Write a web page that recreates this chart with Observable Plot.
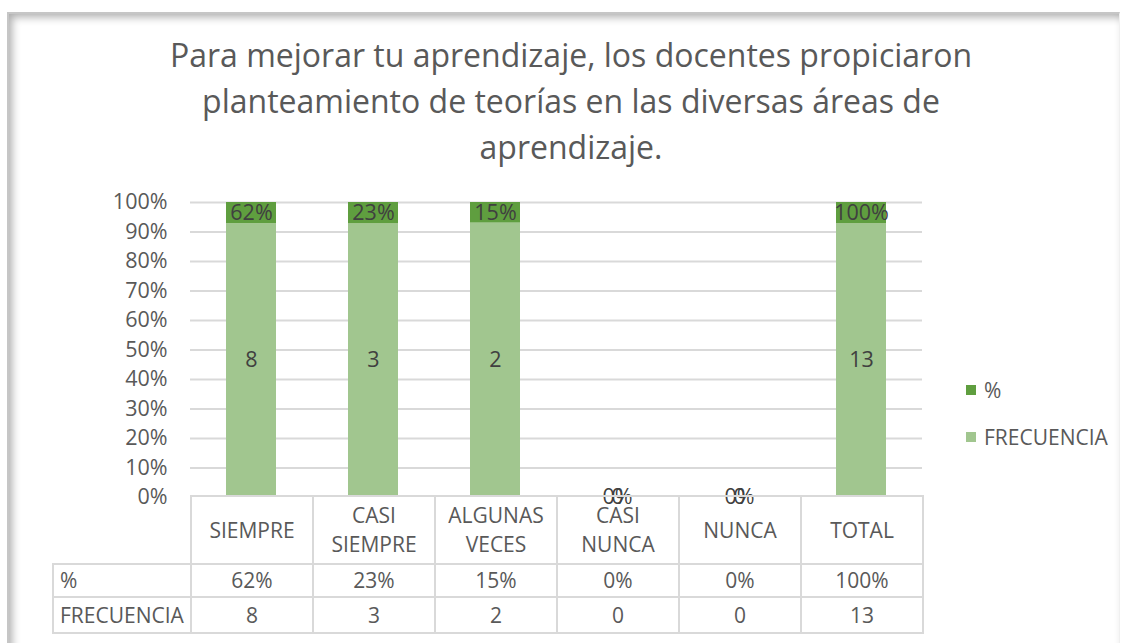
<!DOCTYPE html>
<html><head><meta charset="utf-8">
<script src="https://cdn.jsdelivr.net/npm/d3@7"></script>
<script src="https://cdn.jsdelivr.net/npm/@observablehq/plot@0.6"></script>
<style>
html,body{margin:0;padding:0;background:#fff;}
#root{position:relative;width:1122px;height:643px;overflow:hidden;font-family:"Open Sans",sans-serif;color:#595959;background:#fff;}
#frame{position:absolute;left:7px;top:12px;width:1110px;height:640px;border-top:2px solid #c6c6c6;border-left:2px solid #c6c6c6;border-right:1px solid #f0f0f0;
  box-shadow: inset 9px 9px 9px -6px rgba(0,0,0,0.32), inset -4px 0 6px -4px rgba(0,0,0,0.08);}
#title{position:absolute;left:0;width:1142px;top:32px;text-align:center;font-size:32px;line-height:46px;color:#595959;}
#chart{position:absolute;left:0;top:185px;}
#legend{position:absolute;left:966px;top:366px;font-size:21px;color:#595959;}
#legend .item{display:flex;align-items:center;height:47px;}
#legend .sw{width:10px;height:10px;margin-right:8px;}
#table{position:absolute;left:52px;top:495px;border-collapse:collapse;table-layout:fixed;font-size:21px;color:#595959;}
#table td{border:2px solid #d9d9d9;text-align:center;padding:0;line-height:29px;}
#table td.blank{border:none;}
#table td.rowlab{text-align:left;padding-left:6px;}
</style></head>
<body><div id="root"><div id="frame"></div><div id="title"></div><div id="chart"></div><div id="legend"></div><table id="table"></table></div>
<script>
const titleLines = ["Para mejorar tu aprendizaje, los docentes propiciaron", "planteamiento de teorías en las diversas áreas de", "aprendizaje."];
const categories = ["SIEMPRE", "CASI SIEMPRE", "ALGUNAS VECES", "CASI NUNCA", "NUNCA", "TOTAL"];
const frecuencia = [8, 3, 2, 0, 0, 13];
const porcentaje = [0.62, 0.23, 0.15, 0, 0, 1];
const seriesNames = ["FRECUENCIA", "%"];
const yTicks = [0, 0.1, 0.2, 0.3, 0.4, 0.5, 0.6, 0.7, 0.8, 0.9, 1];

const colorDark = "#5f9e3f";
const colorLight = "#a1c68f";
const pctFmt = d3.format(".0%");

document.getElementById("title").innerHTML = titleLines.join("<br>");

const rows = [];
categories.forEach((c, i) => {
  rows.push({cat: c, series: "FRECUENCIA", value: frecuencia[i], label: String(frecuencia[i])});
  rows.push({cat: c, series: "%", value: porcentaje[i], label: pctFmt(porcentaje[i])});
});

const chart = Plot.plot({
  width: 1122,
  height: 330,
  marginTop: 17,
  marginBottom: 18,
  marginLeft: 190,
  marginRight: 200,
  style: {fontFamily: "Open Sans", fontSize: "21px", color: "#595959", background: "transparent", overflow: "visible"},
  x: {domain: categories, paddingInner: 0.59, paddingOuter: 0.295, axis: null},
  y: {domain: [0, 1]},
  color: {domain: seriesNames, range: [colorLight, colorDark]},
  marks: [
    Plot.gridY(yTicks.slice(1), {stroke: "#d9d9d9", strokeOpacity: 1, strokeWidth: 2}),
    Plot.axisY(yTicks, {tickSize: 0, tickPadding: 23, tickFormat: pctFmt, fontSize: 21.5, fill: "#595959", label: null}),
    Plot.barY(rows, Plot.stackY({offset: "normalize", x: "cat", y: "value", fill: "series", order: null})),
    Plot.text(rows, Plot.stackY({offset: "normalize", x: "cat", y: "value", z: "series", text: "label", fill: "#404040", fontSize: 21.5, order: null}))
  ]
});
document.getElementById("chart").appendChild(chart);

// legend
const legend = d3.select("#legend");
[["%", colorDark], ["FRECUENCIA", colorLight]].forEach(([name, col]) => {
  const it = legend.append("div").attr("class", "item");
  it.append("div").attr("class", "sw").style("background", col);
  it.append("span").text(name);
});

// data table aligned with the x scale
const xs = chart.scale("x");
const step = xs.step;
const table = d3.select("#table");
const cg = table.append("colgroup");
cg.append("col").style("width", (xs.apply(categories[0]) + xs.bandwidth / 2 - step / 2 - 52) + "px");
categories.forEach(() => cg.append("col").style("width", step + "px"));
const hr = table.append("tr").style("height", "68px");
hr.append("td").attr("class", "blank");
categories.forEach(c => hr.append("td").html(c.split(" ").join("<br>")));
const r1 = table.append("tr").style("height", "33px");
r1.append("td").attr("class", "rowlab").text("%");
porcentaje.forEach(v => r1.append("td").text(pctFmt(v)));
const r2 = table.append("tr").style("height", "36px");
r2.append("td").attr("class", "rowlab").text("FRECUENCIA");
frecuencia.forEach(v => r2.append("td").text(v));
</script></body></html>
